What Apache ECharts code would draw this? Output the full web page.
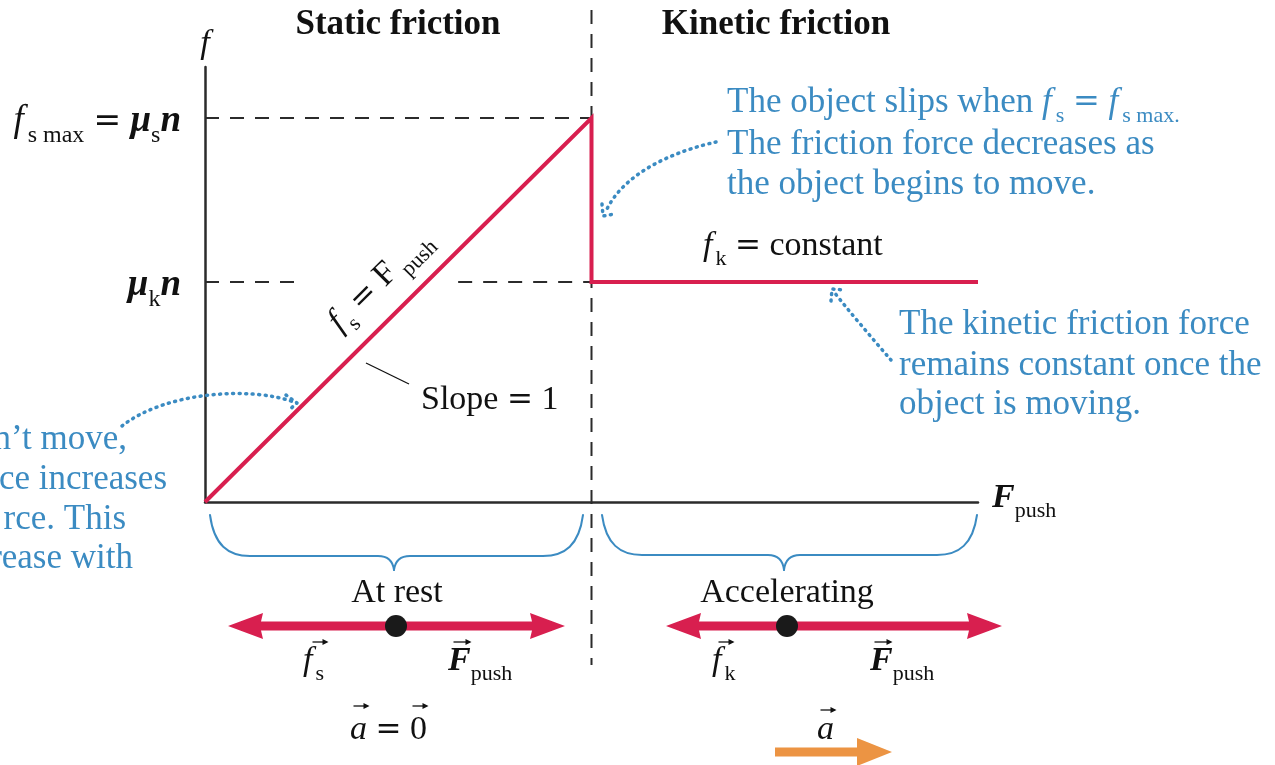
<!DOCTYPE html>
<html><head><meta charset="utf-8">
<script src="https://cdn.jsdelivr.net/npm/echarts@6/dist/echarts.min.js"></script>
<style>html,body{margin:0;padding:0;background:#fff}#c{width:1275px;height:765px}</style>
</head><body><div id="c"></div>
<script>
// ---- data ----
const fPush = [0, 10, 10, 20];
const friction = [0, 10, 5.73, 5.73];
const fsMax = 10;
const fk = 5.73;
const xRange = [0, 20];
const yRange = [0, 11.33];
const tickValues = [fk, fsMax];
const tickLabels = ['{bi|μ}{s|k}{bi|n}', '{i|f}{fs|s max}{n| }{e|=}{n| }{bi|μ}{s|s}{bi|n}'];
const phaseTitles = ['Static friction', 'Kinetic friction'];
const stateLabels = ['At rest', 'Accelerating'];

// ---- style ----
const SERIF = '"Liberation Serif","DejaVu Serif",serif';
const MATH = '"DejaVu Serif","Liberation Serif",serif';
const RED = '#d81f4f', BLUE = '#3b8bc2', INK = '#111111', ORANGE = '#ec9443', AXIS = '#2b2b2b';

function R(color, size, subSize, subDrop) {
  size = size || 34;
  subSize = subSize || Math.round(size * 0.64);
  subDrop = subDrop == null ? Math.round(size * 0.56) : subDrop;
  const base = {fontFamily: SERIF, fontSize: size, color: color, fill: color, verticalAlign: 'top', padding: [0, 0, 0, 0]};
  return {
    n: base,
    i: Object.assign({}, base, {fontStyle: 'italic'}),
    bi: Object.assign({}, base, {fontStyle: 'italic', fontWeight: 'bold'}),
    b: Object.assign({}, base, {fontWeight: 'bold'}),
    e: Object.assign({}, base, {fontFamily: MATH, fontSize: Math.round(size * 0.9), padding: [Math.round(size * 0.07), 0, 0, 0]}),
    s: Object.assign({}, base, {fontSize: subSize, padding: [subDrop, 0, 0, 0]}),
    fs: Object.assign({}, base, {fontSize: subSize, padding: [subDrop, 0, 0, Math.round(size * 0.1)]})
  };
}
function txt(x, y, text, color, size, align, extra) {
  return Object.assign({
    type: 'text', x: x, y: y + 3, z: 20, silent: true,
    style: {text: text, rich: R(color, size), fill: color, font: size + 'px ' + SERIF,
      textAlign: align || 'left', align: align || 'left', textVerticalAlign: 'middle', verticalAlign: 'middle'}
  }, extra || {});
}
function seg(x1, y1, x2, y2, color, w, dash, z) {
  return {type: 'line', z: z == null ? 15 : z, silent: true, shape: {x1, y1, x2, y2},
    style: {stroke: color, lineWidth: w, lineDash: dash || null, lineCap: dash && dash[0] < 2 ? 'round' : 'butt'}};
}
function bez(p, color, w, dash) {
  return {type: 'bezierCurve', z: 15, silent: true,
    shape: {x1: p[0], y1: p[1], cpx1: p[2], cpy1: p[3], cpx2: p[4], cpy2: p[5], x2: p[6], y2: p[7]},
    style: {stroke: color, lineWidth: w, fill: null, lineDash: dash || null, lineCap: 'round'}};
}
function poly(points, color, w, dash) {
  return {type: 'polyline', z: 15, silent: true, shape: {points},
    style: {stroke: color, lineWidth: w, fill: null, lineDash: dash || null, lineCap: 'round', lineJoin: 'round'}};
}
function brace(xl, xr, xc, yTop, yFlat, yTip) {
  const c = BLUE, w = 2;
  return [
    bez([xl, yTop, xl + 4, yFlat - 11, xl + 18, yFlat, xl + 40, yFlat], c, w),
    seg(xl + 40, yFlat, xc - 16, yFlat, c, w),
    bez([xc - 16, yFlat, xc - 5, yFlat, xc - 1, yFlat + 6, xc, yTip], c, w),
    bez([xc, yTip, xc + 1, yFlat + 6, xc + 5, yFlat, xc + 16, yFlat], c, w),
    seg(xc + 16, yFlat, xr - 40, yFlat, c, w),
    bez([xr - 40, yFlat, xr - 18, yFlat, xr - 4, yFlat - 11, xr, yTop], c, w)
  ];
}
function dblArrow(tl, tr, y, dotX) {
  const hb = 35, hh = 13, sh = 4.5;
  return [
    {type: 'polygon', z: 16, silent: true, shape: {points: [
      [tl, y], [tl + hb, y - hh], [tl + hb - 2, y - sh], [tr - hb + 2, y - sh], [tr - hb, y - hh], [tr, y],
      [tr - hb, y + hh], [tr - hb + 2, y + sh], [tl + hb - 2, y + sh], [tl + hb, y + hh]]},
      style: {fill: RED}},
    {type: 'circle', z: 17, silent: true, shape: {cx: dotX, cy: y, r: 11}, style: {fill: '#1a1a1a'}}
  ];
}
function vec(cx, y, w) {
  return [
    seg(cx - w / 2, y, cx + w / 2 - 1, y, INK, 1.3),
    {type: 'polygon', z: 16, silent: true, shape: {points: [[cx + w / 2 + 1, y], [cx + w / 2 - 5, y - 3], [cx + w / 2 - 5, y + 3]]}, style: {fill: INK}}
  ];
}

const chart = echarts.init(document.getElementById('c'), null, {renderer: 'canvas'});
const dashStyle = {color: AXIS, width: 2, type: [14, 11]};
chart.setOption({
  animation: false,
  backgroundColor: '#ffffff',
  grid: {left: 205, top: 67, width: 773, height: 435, containLabel: false, outerBoundsMode: 'none'},
  xAxis: {
    type: 'value', min: xRange[0], max: xRange[1],
    name: '{bi|F}{s|push}', nameLocation: 'end', nameGap: 14,
    nameTextStyle: {rich: R(INK, 34), fontFamily: SERIF, fontSize: 34, color: INK, verticalAlign: 'middle'},
    axisLine: {show: true, onZero: false, lineStyle: {color: AXIS, width: 2.5}},
    axisTick: {show: false}, axisLabel: {show: false}, splitLine: {show: false}
  },
  yAxis: {
    type: 'value', min: yRange[0], max: yRange[1],
    name: 'f', nameLocation: 'end', nameGap: 6,
    nameTextStyle: {fontFamily: SERIF, fontStyle: 'italic', fontSize: 34, color: INK, align: 'center'},
    axisLine: {show: true, onZero: false, lineStyle: {color: AXIS, width: 2.5}},
    axisTick: {show: false}, splitLine: {show: false},
    axisLabel: {show: true, customValues: tickValues, margin: 24, padding: [14, 0, 0, 0], rich: R(INK, 37),
      formatter: function (v) { return tickLabels[tickValues.indexOf(v)] || ''; }}
  },
  series: [
    {type: 'line', data: [[0, fsMax], [fsMax, fsMax]], symbol: 'none', lineStyle: dashStyle, z: 3, silent: true},
    {type: 'line', data: [[0, fk], [2.35, fk]], symbol: 'none', lineStyle: dashStyle, z: 3, silent: true},
    {type: 'line', data: [[6.55, fk], [fsMax, fk]], symbol: 'none', lineStyle: dashStyle, z: 3, silent: true},
    {type: 'line', data: fPush.map((x, i) => [x, friction[i]]), symbol: 'none',
      lineStyle: {color: RED, width: 4, join: 'miter'}, z: 5, silent: true}
  ]
});

const divX = chart.convertToPixel({gridIndex: 0}, [fsMax, 0])[0];
const dot = [1, 5.5];
let g = [];
g.push(seg(divX, 10, divX, 665, AXIS, 2, [14, 10], 1));
g.push(txt(398, 22, '{b|' + phaseTitles[0] + '}', INK, 35, 'center'));
g.push(txt(776, 22, '{b|' + phaseTitles[1] + '}', INK, 35, 'center'));
g.push(txt(382, 280, '{i|f}{fs|s}{n| }{e|=}{n| }{n|F}{s| push}', INK, 34, 'center', {rotation: Math.PI / 4}));
g.push(seg(366, 363, 409, 384, INK, 1.3));
g.push(txt(421, 397, '{n|Slope }{e|=}{n| 1}', INK, 34));
g.push(txt(703, 247, '{i|f}{fs|k}{n| }{e|=}{n| constant}', INK, 34));
// blue annotations
g.push(txt(727, 103, '{n|The object slips when }{i|f}{fs|s}{n| }{e|=}{n| }{i|f}{fs|s max.}', BLUE, 35));
g.push(txt(727, 142, '{n|The friction force decreases as}', BLUE, 35));
g.push(txt(727, 182, '{n|the object begins to move.}', BLUE, 35));
g.push(txt(899, 322, '{n|The kinetic friction force}', BLUE, 35));
g.push(txt(899, 363, '{n|remains constant once the}', BLUE, 35));
g.push(txt(899, 402, '{n|object is moving.}', BLUE, 35));
g.push(txt(127, 437, '{n|n’t move,}', BLUE, 35, 'right'));
g.push(txt(167, 477, '{n|ce increases}', BLUE, 35, 'right'));
g.push(txt(126, 517, '{n|rce. This}', BLUE, 35, 'right'));
g.push(txt(133, 556, '{n|rease with}', BLUE, 35, 'right'));
// dotted pointers
g.push(bez([122, 426, 165, 392, 250, 386, 294, 402], BLUE, 3.5, dot));
g.push(poly([[286, 395], [297, 403], [288, 411]], BLUE, 3.5, dot));
g.push(bez([716, 142, 680, 150, 625, 170, 606, 211], BLUE, 3.5, dot));
g.push(poly([[602, 204], [603, 216], [615, 214]], BLUE, 3.5, dot));
g.push(bez([891, 360, 872, 338, 848, 310, 834, 292], BLUE, 3.5, dot));
g.push(poly([[831, 301], [832, 289], [844, 290]], BLUE, 3.5, dot));
// braces
g = g.concat(brace(210, 583, 394, 515, 556, 570));
g = g.concat(brace(602, 977, 784, 515, 555, 570));
g.push(txt(397, 590, '{n|' + stateLabels[0] + '}', INK, 34, 'center'));
g.push(txt(787, 590, '{n|' + stateLabels[1] + '}', INK, 34, 'center'));
// force arrows
g = g.concat(dblArrow(228, 565, 626, 396));
g = g.concat(dblArrow(666, 1002, 626, 787));
g.push(txt(303, 662, '{i|f}{fs|s}', INK, 34));
g = g.concat(vec(320, 642, 15));
g.push(txt(448, 662, '{bi|F}{s|push}', INK, 34));
g = g.concat(vec(462, 642, 17));
g.push(txt(712, 662, '{i|f}{fs|k}', INK, 34));
g = g.concat(vec(726, 642, 15));
g.push(txt(870, 662, '{bi|F}{s|push}', INK, 34));
g = g.concat(vec(883, 642, 17));
// acceleration
g.push(txt(350, 727, '{i|a}{n| }{e|=}{n| 0}', INK, 34));
g = g.concat(vec(361, 706, 15));
g = g.concat(vec(420, 706, 15));
g.push(txt(817, 727, '{i|a}', INK, 34));
g = g.concat(vec(828, 710, 15));
g.push({type: 'polygon', z: 16, silent: true, shape: {points: [[775, 747.5], [857, 747.5], [857, 738], [892, 752], [857, 766], [857, 756.5], [775, 756.5]]}, style: {fill: ORANGE}});

chart.setOption({graphic: {elements: g}});
</script>
</body></html>
